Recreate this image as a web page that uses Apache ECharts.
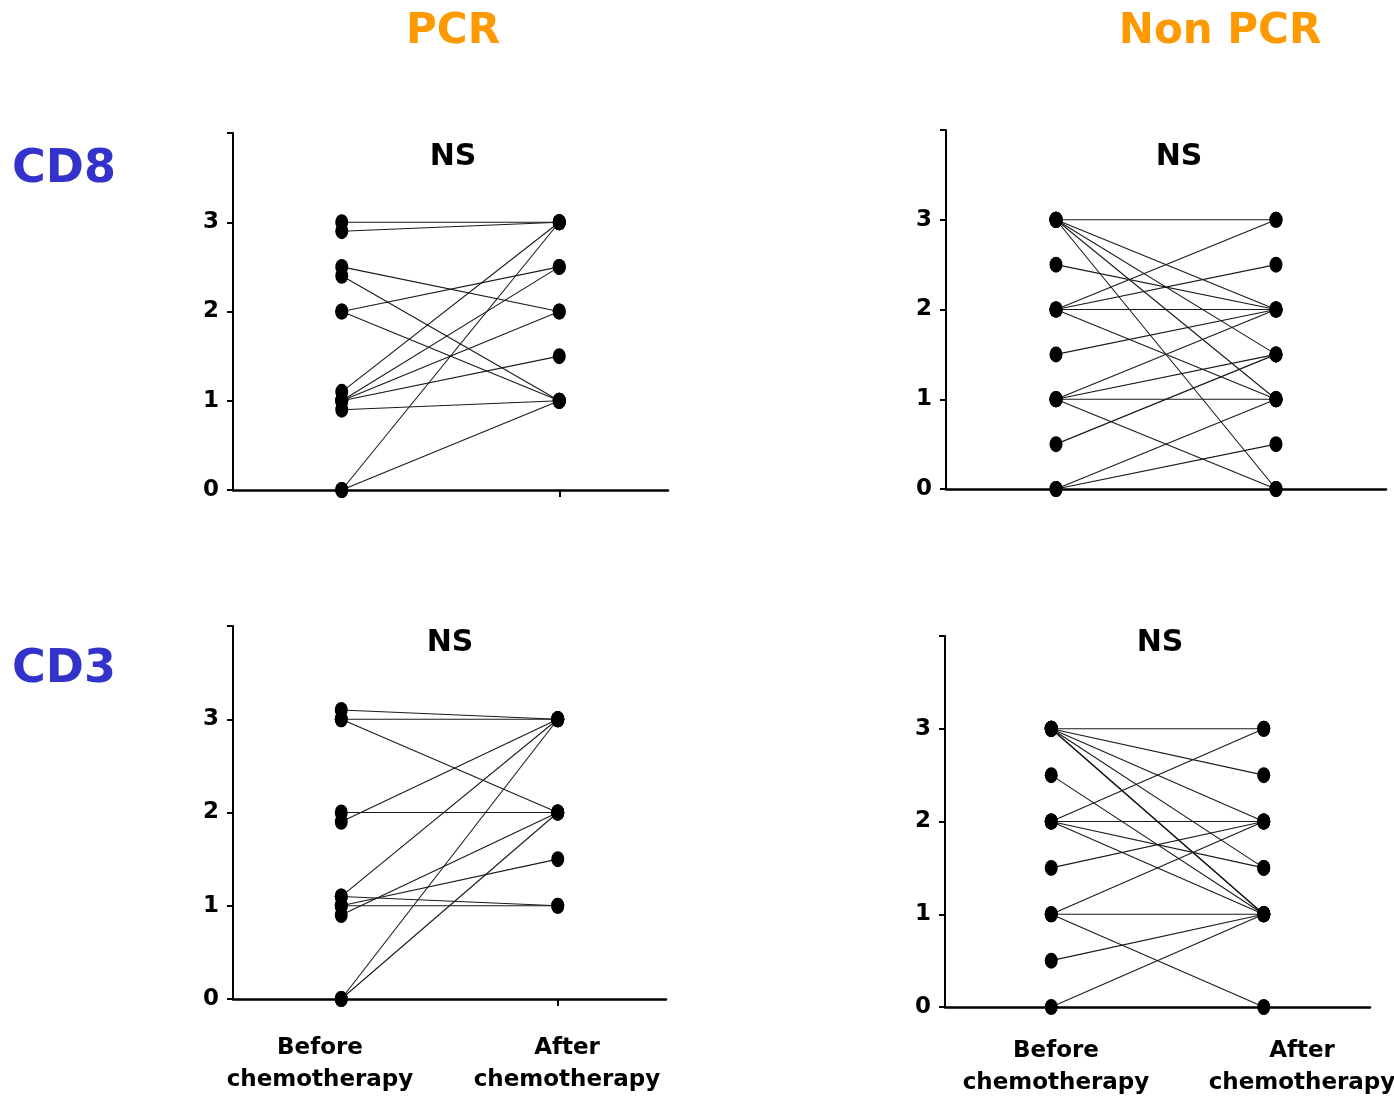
<!DOCTYPE html>
<html>
<head>
<meta charset="utf-8">
<script src="https://cdn.jsdelivr.net/npm/echarts@6/dist/echarts.min.js"></script>
<style>
html,body{margin:0;padding:0;background:#fff;}
#chart{width:1394px;height:1100px;}
</style>
</head>
<body>
<div id="chart"></div>
<script>
// ---- Data (paired values: before -> after) ----
const columnTitles = ['PCR', 'Non PCR'];
const rowTitles = ['CD8', 'CD3'];
const panelLabels = ['NS', 'NS', 'NS', 'NS'];
const xLabels = ['Before\nchemotherapy', 'After\nchemotherapy'];
const yTicks = [0, 1, 2, 3];

const pcrCd8Before = [3.0, 2.9, 2.5, 2.4, 2.0, 2.0, 1.1, 1.0, 1.0, 1.0, 0.9, 0, 0];
const pcrCd8After  = [3.0, 3.0, 2.0, 1.0, 2.5, 1.0, 3.0, 2.5, 2.0, 1.5, 1.0, 3.0, 1.0];

const nonPcrCd8Before = [3, 3, 3, 3, 3, 2.5, 2, 2, 2, 2, 1.5, 1, 1, 1, 1, 0.5, 0, 0];
const nonPcrCd8After  = [3, 2, 1.5, 1, 0, 2, 3, 2.5, 2, 1, 2, 2, 1.5, 1, 0, 1.5, 1, 0.5];

const pcrCd3Before = [3.1, 3.0, 3.0, 2.0, 1.9, 1.1, 1.1, 1.0, 1.0, 0.9, 0, 0];
const pcrCd3After  = [3.0, 3.0, 2.0, 2.0, 3.0, 3.0, 1.0, 1.5, 1.0, 2.0, 3.0, 2.0];

const nonPcrCd3Before = [3, 3, 3, 3, 3, 3, 2.5, 2, 2, 2, 2, 1.5, 1, 1, 1, 0.5, 0];
const nonPcrCd3After  = [3, 2.5, 2, 1.5, 1, 1, 1, 3, 2, 1.5, 1, 2, 2, 1, 0, 1, 1];

const panels = [
  {before: pcrCd8Before, after: pcrCd8After},
  {before: nonPcrCd8Before, after: nonPcrCd8After},
  {before: pcrCd3Before, after: pcrCd3After},
  {before: nonPcrCd3Before, after: nonPcrCd3After}
];

// ---- Layout ----
const FONT = '"DejaVu Sans", sans-serif';
const grids = [
  {left: 233, top: 133, width: 435, height: 357},
  {left: 946, top: 130, width: 440, height: 359},
  {left: 233, top: 626, width: 433, height: 373},
  {left: 945, top: 636, width: 425, height: 371}
];

const xAxes = [], yAxes = [], series = [];
grids.forEach((g, i) => {
  xAxes.push({
    type: 'value', gridIndex: i, min: -0.5, max: 1.5,
    splitLine: {show: false},
    axisLine: {show: true, onZero: false, lineStyle: {color: '#000', width: 2.5}},
    axisTick: {show: true, inside: false, length: 7, customValues: [0, 1], lineStyle: {color: '#000', width: 2}},
    axisLabel: {show: false}
  });
  yAxes.push({
    type: 'value', gridIndex: i, min: 0, max: 4, interval: 1,
    splitLine: {show: false},
    axisLine: {show: true, onZero: false, lineStyle: {color: '#000', width: 2}},
    axisTick: {show: true, inside: false, length: 6, lineStyle: {color: '#000', width: 2}},
    axisLabel: {
      show: true, margin: 14, color: '#000', fontFamily: FONT, fontWeight: 'bold', fontSize: 23,
      formatter: v => (yTicks.indexOf(v) >= 0 ? String(v) : '')
    }
  });
  const p = panels[i];
  p.before.forEach((b, k) => {
    series.push({
      type: 'line', xAxisIndex: i, yAxisIndex: i,
      data: [[0, b], [1, p.after[k]]],
      showSymbol: false, symbol: 'none', silent: true, animation: false,
      lineStyle: {color: '#1a1a1a', width: 1.1},
      z: 2
    });
  });
  const pts = [];
  p.before.forEach(b => pts.push([0, b]));
  p.after.forEach(a => pts.push([1, a]));
  series.push({
    type: 'scatter', xAxisIndex: i, yAxisIndex: i, data: pts,
    symbol: 'circle', symbolSize: [13, 16], clip: false, animation: false,
    itemStyle: {color: '#000', opacity: 1}, z: 3
  });
});

const graphic = [];
function txt(text, x, y, size, color) {
  graphic.push({
    type: 'text', x: x, y: y, silent: true,
    style: {text: text, fill: color, font: 'bold ' + size + 'px ' + FONT,
            textAlign: 'center', textVerticalAlign: 'middle', lineHeight: 32}
  });
}
txt(columnTitles[0], 453, 32, 42, '#FF9900');
txt(columnTitles[1], 1220, 32, 42, '#FF9900');
txt(rowTitles[0], 64, 170, 46, '#3333CC');
txt(rowTitles[1], 64, 670, 46, '#3333CC');
txt(panelLabels[0], 453, 157, 30, '#000');
txt(panelLabels[1], 1179, 157, 30, '#000');
txt(panelLabels[2], 450, 643, 30, '#000');
txt(panelLabels[3], 1160, 643, 30, '#000');
txt(xLabels[0], 320, 1064, 23, '#000');
txt(xLabels[1], 567, 1064, 23, '#000');
txt(xLabels[0], 1056, 1067, 23, '#000');
txt(xLabels[1], 1302, 1067, 23, '#000');

const chart = echarts.init(document.getElementById('chart'), null, {renderer: 'canvas'});
chart.setOption({
  backgroundColor: '#fff',
  animation: false,
  grid: grids,
  xAxis: xAxes,
  yAxis: yAxes,
  series: series,
  graphic: graphic
});
</script>
</body>
</html>
